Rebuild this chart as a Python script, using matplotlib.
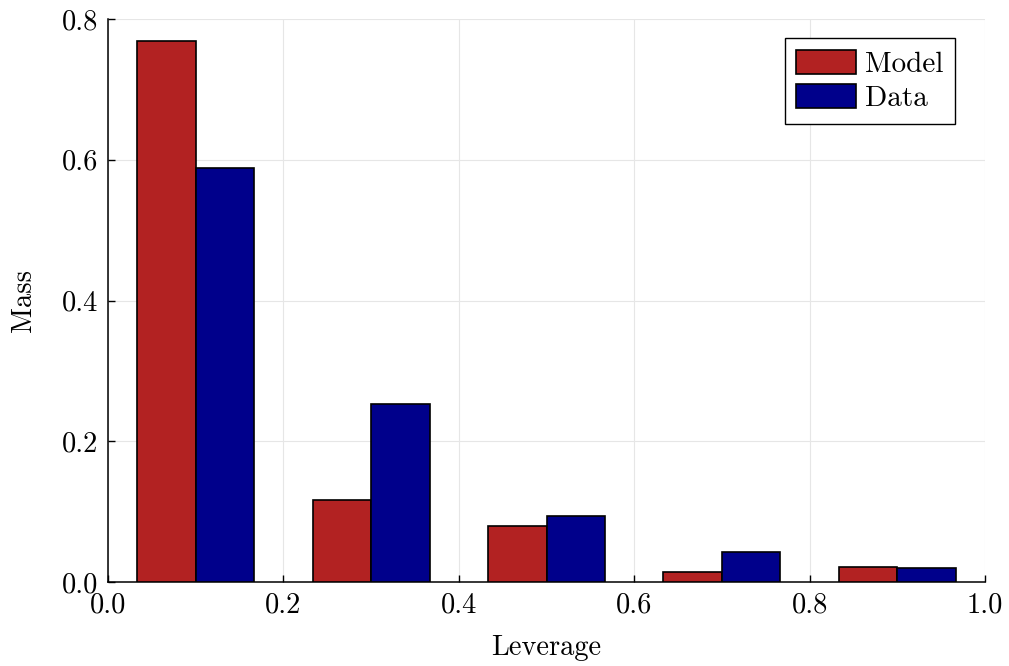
import matplotlib.pyplot as plt
import numpy as np

plt.rcParams['font.family'] = 'serif'
plt.rcParams['font.serif'] = ['cmr10']
plt.rcParams['mathtext.fontset'] = 'cm'
plt.rcParams['axes.formatter.use_mathtext'] = True

centers = [0.1, 0.3, 0.5, 0.7, 0.9]
model = [0.769, 0.1165, 0.0796, 0.0142, 0.0213]
data = [0.588, 0.253, 0.0938, 0.0426, 0.0199]
xticks = [0.0, 0.2, 0.4, 0.6, 0.8, 1.0]
yticks = [0.0, 0.2, 0.4, 0.6, 0.8]

fig = plt.figure(figsize=(10.09, 6.66), dpi=100)
ax = fig.add_axes([108 / 1009, 84 / 666, 877 / 1009, 563 / 666])

w = 0.2 / 3
x = np.array(centers)
ax.bar(x - w / 2, model, width=w, color='#b22222', edgecolor='black', linewidth=1.2, label='Model', zorder=3)
ax.bar(x + w / 2, data, width=w, color='#00008b', edgecolor='black', linewidth=1.2, label='Data', zorder=3)

ax.set_xlim(0, 1)
ax.set_ylim(0, 0.8)
ax.set_xticks(xticks)
ax.set_yticks(yticks)
ax.set_xticklabels([f'{t:.1f}' for t in xticks])
ax.set_yticklabels([f'{t:.1f}' for t in yticks])
ax.tick_params(direction='in', length=5, width=1, labelsize=20.5, pad=7)
ax.grid(True, color='#e6e6e6', linewidth=0.8, zorder=0)
for s in ['top', 'right']:
    ax.spines[s].set_visible(False)
for s in ['left', 'bottom']:
    ax.spines[s].set_linewidth(1.1)

ax.set_xlabel('Leverage', fontsize=20.5, labelpad=12)
ax.set_ylabel('Mass', fontsize=20.5, labelpad=18)

leg = ax.legend(loc='upper right', bbox_to_anchor=(0.966, 0.966), borderaxespad=0, fontsize=21,
                fancybox=False, edgecolor='black', framealpha=1, handlelength=2.05, handleheight=0.88,
                handletextpad=0.3, labelspacing=0.22, borderpad=0.4)
leg.get_frame().set_linewidth(1.0)

fig.savefig('out.png', dpi=100)
